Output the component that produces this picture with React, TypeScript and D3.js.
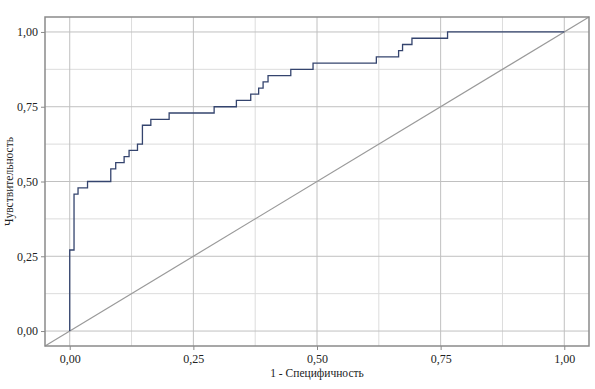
import * as React from "react";
import * as d3 from "d3";

// ROC curve points (1 - specificity, sensitivity)
const fpr = [0, 0, 0.0087, 0.0168, 0.036, 0.083, 0.093, 0.110, 0.120, 0.137, 0.147, 0.164, 0.201, 0.292, 0.337, 0.366, 0.382, 0.391, 0.401, 0.447, 0.492, 0.620, 0.665, 0.673, 0.692, 0.764, 1.0];
const tpr = [0, 0.271, 0.458, 0.479, 0.5, 0.542, 0.563, 0.583, 0.604, 0.625, 0.688, 0.708, 0.729, 0.75, 0.771, 0.792, 0.8125, 0.833, 0.854, 0.875, 0.896, 0.917, 0.9375, 0.958, 0.979, 1.0, 1.0];

const tickValues = [0, 0.25, 0.5, 0.75, 1];
const minorValues = [0.125, 0.375, 0.625, 0.875];
const xTitle = "1 - Специфичность";
const yTitle = "Чувствительность";

const FONT = "'Liberation Serif', 'DejaVu Serif', serif";

export default function App() {
  const ref = React.useRef<SVGSVGElement>(null);

  React.useEffect(() => {
    const width = 595, height = 389;
    const margin = { top: 17, right: 6, bottom: 43, left: 45 };
    const w = width - margin.left - margin.right;
    const h = height - margin.top - margin.bottom;

    const svg = d3.select(ref.current);
    svg.selectAll("*").remove();

    const x = d3.scaleLinear().domain([-0.05, 1.05]).range([0, w]);
    const y = d3.scaleLinear().domain([-0.05, 1.05]).range([h, 0]);

    const g = svg.append("g")
      .attr("transform", "translate(" + margin.left + "," + margin.top + ")");

    // minor grid
    minorValues.forEach(v => {
      g.append("line").attr("x1", x(v)).attr("x2", x(v)).attr("y1", 0).attr("y2", h)
        .attr("stroke", "#dcdcdc").attr("stroke-width", 1);
      g.append("line").attr("x1", 0).attr("x2", w).attr("y1", y(v)).attr("y2", y(v))
        .attr("stroke", "#dcdcdc").attr("stroke-width", 1);
    });
    // major grid
    tickValues.forEach(v => {
      g.append("line").attr("x1", x(v)).attr("x2", x(v)).attr("y1", 0).attr("y2", h)
        .attr("stroke", "#c0c0c0").attr("stroke-width", 1);
      g.append("line").attr("x1", 0).attr("x2", w).attr("y1", y(v)).attr("y2", y(v))
        .attr("stroke", "#c0c0c0").attr("stroke-width", 1);
    });

    // reference diagonal
    g.append("line")
      .attr("x1", x(-0.05)).attr("y1", y(-0.05))
      .attr("x2", x(1.05)).attr("y2", y(1.05))
      .attr("stroke", "#9a9a9a").attr("stroke-width", 1.2);

    // ROC curve
    const data = fpr.map((f, i) => ({ f, t: tpr[i] }));
    const line = d3.line<any>()
      .x(d => x(d.f))
      .y(d => y(d.t))
      .curve(d3.curveStepAfter);
    g.append("path")
      .datum(data)
      .attr("d", line)
      .attr("fill", "none")
      .attr("stroke", "#34446e")
      .attr("stroke-width", 1.3);

    // frame
    g.append("rect").attr("x", 0).attr("y", 0).attr("width", w).attr("height", h)
      .attr("fill", "none").attr("stroke", "#8a8a8a").attr("stroke-width", 1.5);

    const fmt = (v: number) => d3.format(".2f")(v).replace(".", ",");

    const xAxis = g.append("g")
      .attr("transform", "translate(0," + h + ")")
      .call(d3.axisBottom(x).tickValues(tickValues).tickFormat(fmt as any).tickSize(4).tickPadding(4));
    const yAxis = g.append("g")
      .call(d3.axisLeft(y).tickValues(tickValues).tickFormat(fmt as any).tickSize(4).tickPadding(3));

    [xAxis, yAxis].forEach(a => {
      a.attr("font-family", FONT).attr("font-size", 12);
      a.select(".domain").remove();
      a.selectAll("line").attr("stroke", "#8a8a8a");
      a.selectAll("text").attr("fill", "#222");
    });

    const titles = svg.append("g").attr("font-family", FONT).attr("font-size", 11.5).attr("fill", "#222");

    titles.append("text")
      .attr("x", margin.left + w / 2)
      .attr("y", 377)
      .attr("text-anchor", "middle")
      .text(xTitle);

    titles.append("text")
      .attr("transform", "translate(13," + (margin.top + h / 2) + ") rotate(-90)")
      .attr("text-anchor", "middle")
      .text(yTitle);
  }, []);

  return (
    <svg ref={ref} width={595} height={389}
      style={{ position: "absolute", left: 0, top: 0, background: "#fff", fontFamily: FONT }} />
  );
}
